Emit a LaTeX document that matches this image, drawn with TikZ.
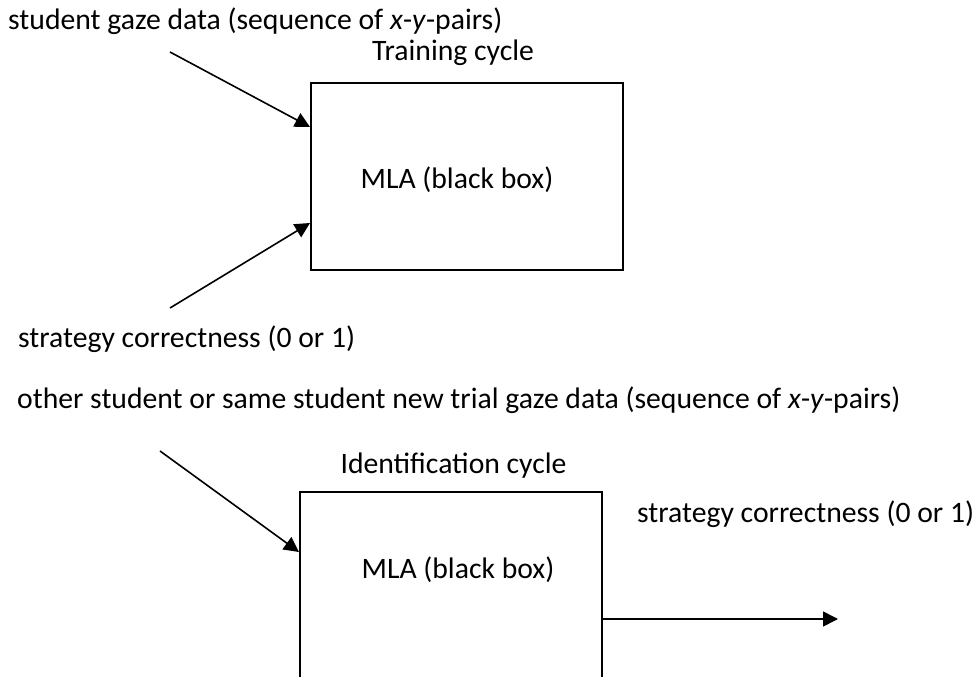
\documentclass[tikz,border=0pt]{standalone}
\usepackage{fontspec}
\setmainfont{Carlito}
\usetikzlibrary{arrows.meta,positioning}

\begin{document}
\begin{tikzpicture}[x=1bp,y=-1bp,
  lbl/.style={inner sep=0pt,font=\fontsize{29.8}{35}\selectfont},
  mlabox/.style={draw,line width=2bp,inner sep=0pt},
  arr/.style={line width=1.6bp,-{Triangle[length=15bp,width=15bp]}}]
\clip (0,0) rectangle (980,677);
\fill[white] (0,0) rectangle (980,677);
% training cycle
\node[lbl,anchor=west] (gaze) at (8,21) {student gaze data (sequence of \textit{x}-\textit{y}-pairs)};
\node[lbl] (train) at (453,53) {Training cycle};
\node[mlabox,minimum width=312bp,minimum height=187bp] (box1) at (467,176.5) {};
\node[lbl] (mla1) at (457,180) {MLA (black box)};
\node[lbl,anchor=west] (corr) at (18,339) {strategy correctness (0 or 1)};
\coordinate (g1) at (170,52);
\coordinate (c1) at (170,308);
\draw[arr] (g1) -- ([yshift=49.5bp]box1.west);
\draw[arr] (c1) -- ([yshift=-46.5bp]box1.west);
% identification cycle
\node[lbl,anchor=west] (other) at (17,400) {other student or same student new trial gaze data (sequence of \textit{x}-\textit{y}-pairs)};
\node[lbl] (ident) at (453.5,466) {Identification cycle};
\node[mlabox,minimum width=302bp,minimum height=228bp] (box2) at (451,606) {};
\node[lbl] (mla2) at (458,570) {MLA (black box)};
\node[lbl,anchor=west] (corr2) at (637,514) {strategy correctness (0 or 1)};
\coordinate (g2) at (160,451);
\coordinate (out) at (838,619);
\draw[arr] (g2) -- ([yshift=54bp]box2.west);
\draw[arr] ([yshift=-13bp]box2.east) -- (out);
\end{tikzpicture}
\end{document}
